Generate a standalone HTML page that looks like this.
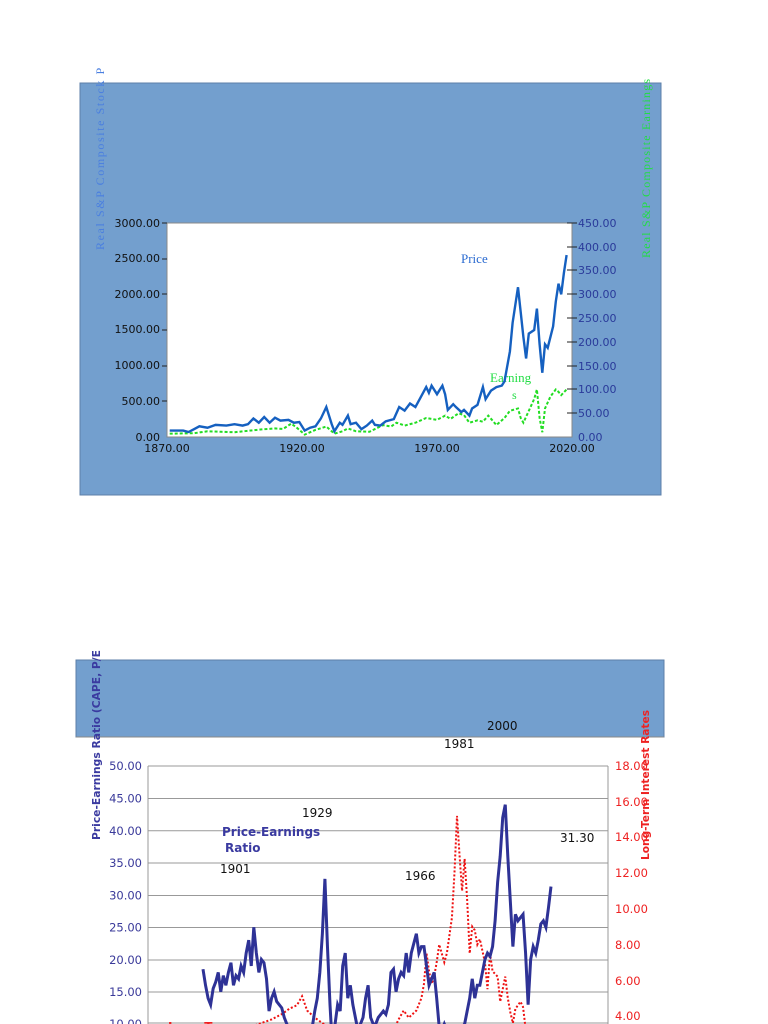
<!DOCTYPE html>
<html><head><meta charset="utf-8"><style>
html,body{margin:0;padding:0;background:#fff;width:768px;height:1024px;overflow:hidden}
svg{display:block}
text{font-family:"DejaVu Sans","Liberation Sans",sans-serif}
</style></head><body>
<svg width="768" height="1024" viewBox="0 0 768 1024" xmlns="http://www.w3.org/2000/svg">
<!-- Chart 1 -->
<rect x="80" y="83" width="581" height="412" fill="#739fce" stroke="#5c7fa8"/>
<rect x="167" y="223" width="405" height="214" fill="#fff" stroke="#888"/>
<text transform="translate(104,250) rotate(-90)" font-size="12" fill="#4a7fe0" letter-spacing="1.6" style="font-family:'Liberation Serif',serif">Real S&amp;P Composite Stock P</text>
<text transform="translate(650,258) rotate(-90)" font-size="12" fill="#22dd44" letter-spacing="1.2" style="font-family:'Liberation Serif',serif">Real S&amp;P Composite Earnings</text>
<g font-size="11" fill="#111" text-anchor="end">
<text x="160" y="227">3000.00</text><text x="160" y="262">2500.00</text><text x="160" y="298">2000.00</text><text x="160" y="333">1500.00</text><text x="160" y="369">1000.00</text><text x="160" y="405">500.00</text><text x="160" y="441">0.00</text>
</g>
<g stroke="#222"><line x1="162" y1="223" x2="167" y2="223"/><line x1="162" y1="259" x2="167" y2="259"/><line x1="162" y1="294" x2="167" y2="294"/><line x1="162" y1="330" x2="167" y2="330"/><line x1="162" y1="366" x2="167" y2="366"/><line x1="162" y1="401" x2="167" y2="401"/>
<line x1="567" y1="223" x2="577" y2="223"/><line x1="567" y1="247" x2="577" y2="247"/><line x1="567" y1="270" x2="577" y2="270"/><line x1="567" y1="294" x2="577" y2="294"/><line x1="567" y1="318" x2="577" y2="318"/><line x1="567" y1="342" x2="577" y2="342"/><line x1="567" y1="366" x2="577" y2="366"/><line x1="567" y1="389" x2="577" y2="389"/><line x1="567" y1="413" x2="577" y2="413"/></g>
<g font-size="11" fill="#2a3a9a">
<text x="578" y="227">450.00</text><text x="578" y="251">400.00</text><text x="578" y="274">350.00</text><text x="578" y="298">300.00</text><text x="578" y="322">250.00</text><text x="578" y="346">200.00</text><text x="578" y="370">150.00</text><text x="578" y="393">100.00</text><text x="578" y="417">50.00</text><text x="578" y="441">0.00</text>
</g>
<g font-size="11" fill="#111" text-anchor="middle"><text x="167" y="452">1870.00</text><text x="302" y="452">1920.00</text><text x="437" y="452">1970.00</text><text x="572" y="452">2020.00</text></g>
<text x="461" y="263" font-size="13" fill="#2a6ad0" style="font-family:'Liberation Serif',serif">Price</text>
<text x="490" y="382" font-size="13" fill="#22dd44" style="font-family:'Liberation Serif',serif">Earning</text>
<text x="512" y="399" font-size="12" fill="#22dd44" style="font-family:'Liberation Serif',serif">s</text>
<g transform="translate(-4882,437) scale(2.7,-0.4756)">
<polyline fill="none" stroke="#22dd22" stroke-width="2" stroke-dasharray="3,2" vector-effect="non-scaling-stroke" points="1871,7 1880,8 1885,12 1890,11 1895,10 1900,13 1905,16 1910,18 1913,17 1916,28 1918,20 1921,5 1925,15 1929,22 1932,7 1935,12 1937,18 1940,12 1945,11 1950,25 1953,22 1955,30 1958,24 1962,30 1966,40 1970,36 1973,45 1975,38 1978,50 1980,46 1982,30 1985,35 1987,32 1989,45 1992,25 1995,40 1997,55 2000,60 2001,40 2002,30 2004,55 2006,80 2007,100 2008,40 2009,10 2010,60 2012,85 2014,100 2015,95 2016,88 2018,100"/>
</g>
<g transform="translate(-4882,437) scale(2.7,-0.07133)">
<polyline fill="none" stroke="#1560c0" stroke-width="2.4" vector-effect="non-scaling-stroke" points="1871,90 1876,90 1878,70 1880,110 1882,150 1885,130 1888,170 1892,160 1895,180 1898,160 1900,180 1902,260 1904,200 1906,280 1908,200 1910,270 1912,230 1915,240 1917,200 1919,210 1921,90 1923,130 1925,150 1927,260 1929,420 1931,180 1932,80 1934,200 1935,170 1937,300 1938,180 1940,200 1942,110 1944,160 1946,230 1947,170 1949,160 1951,220 1954,250 1956,420 1958,370 1960,470 1962,420 1964,560 1966,700 1967,620 1968,720 1970,600 1972,720 1973,600 1974,380 1976,460 1977,420 1979,350 1980,380 1982,300 1983,400 1985,450 1987,700 1988,530 1990,650 1992,700 1994,720 1995,780 1997,1200 1998,1600 2000,2100 2001,1750 2002,1400 2003,1100 2004,1450 2006,1500 2007,1800 2008,1300 2009,900 2010,1300 2011,1250 2013,1550 2014,1900 2015,2150 2016,2000 2017,2300 2018,2550"/>
</g>

<!-- Chart 2 -->
<rect x="76" y="660" width="588" height="77" fill="#739fce" stroke="#5c7fa8"/>
<line x1="76" y1="737" x2="664" y2="737" stroke="#888"/>
<g stroke="#999" stroke-width="1">
<line x1="148" y1="766" x2="608" y2="766"/><line x1="148" y1="798.5" x2="608" y2="798.5"/><line x1="148" y1="830.7" x2="608" y2="830.7"/><line x1="148" y1="863" x2="608" y2="863"/><line x1="148" y1="895.5" x2="608" y2="895.5"/><line x1="148" y1="927.5" x2="608" y2="927.5"/><line x1="148" y1="960" x2="608" y2="960"/><line x1="148" y1="992" x2="608" y2="992"/><line x1="148" y1="1023" x2="608" y2="1023"/>
<line x1="148" y1="766" x2="148" y2="1024"/><line x1="608" y1="766" x2="608" y2="1024"/>
</g>
<g font-size="11.5" fill="#3a3a9a" text-anchor="end">
<text x="142" y="770">50.00</text><text x="142" y="802.5">45.00</text><text x="142" y="835">40.00</text><text x="142" y="867">35.00</text><text x="142" y="899.5">30.00</text><text x="142" y="931.5">25.00</text><text x="142" y="964">20.00</text><text x="142" y="996">15.00</text><text x="142" y="1028">10.00</text>
</g>
<g font-size="11.5" fill="#ee2222">
<text x="615" y="770">18.00</text><text x="615" y="806">16.00</text><text x="615" y="841">14.00</text><text x="615" y="877">12.00</text><text x="615" y="913">10.00</text><text x="615" y="949">8.00</text><text x="615" y="985">6.00</text><text x="615" y="1020">4.00</text>
</g>
<text transform="translate(100,840) rotate(-90)" font-size="11" font-weight="bold" fill="#3a3aa0" textLength="190" lengthAdjust="spacingAndGlyphs">Price-Earnings Ratio (CAPE, P/E</text>
<text transform="translate(649,860) rotate(-90)" font-size="11" font-weight="bold" fill="#ee2222" textLength="150" lengthAdjust="spacingAndGlyphs">Long-Term Interest Rates</text>
<g font-size="12" fill="#111" style="font-family:'DejaVu Sans Mono',monospace">
<text x="487" y="730">2000</text><text x="444" y="748">1981</text><text x="302" y="817">1929</text><text x="220" y="873">1901</text><text x="405" y="880">1966</text><text x="560" y="842">31.30</text>
</g>
<text x="222" y="836" font-size="12" font-weight="bold" fill="#3a3aa0">Price-Earnings</text>
<text x="225" y="852" font-size="12" font-weight="bold" fill="#3a3aa0">Ratio</text>
<text x="168" y="1031" font-size="12" font-weight="bold" fill="#ee2222">Long-Term</text>
<g transform="translate(-4574.74,1087.3) scale(2.54,-17.85)">
<polyline fill="none" stroke="#ee1111" stroke-width="2" stroke-dasharray="2,2" vector-effect="non-scaling-stroke" points="1900,3.4 1908,3.8 1912,4.1 1915,4.4 1918,4.6 1920,5.1 1922,4.3 1925,3.9 1930,3.4 1940,2.4 1950,2.4 1955,2.9 1958,3.8 1960,4.3 1962,3.9 1965,4.3 1967,5 1968,5.8 1969,7.5 1970,6.5 1971,5.8 1972,6.2 1973,7 1974,8 1975,7.5 1976,7 1977,7.5 1978,8.5 1979,9.5 1980,12 1981,15.2 1982,13 1983,11 1984,12.8 1985,10.5 1986,7.5 1987,9 1988,8.8 1989,8 1990,8.3 1992,7 1993,5.5 1994,7.5 1995,6.5 1997,6.2 1998,4.8 2000,6.2 2001,5 2002,4.2 2003,3.6 2004,4.4 2006,4.8 2007,4.5 2008,3.3 2010,3 2012,1.8 2015,2 2018,2.8"/>
</g>
<g transform="translate(-4574.74,1088.5) scale(2.54,-6.45)">
<polyline fill="none" stroke="#2e3296" stroke-width="3" vector-effect="non-scaling-stroke" points="1881,18.5 1882,16 1883,14 1884,13 1885,15.5 1886,16.5 1887,18 1888,15 1889,17.5 1890,16 1891,18 1892,19.5 1893,16 1894,17.5 1895,17 1896,19 1897,18 1898,21 1899,23 1900,19 1901,25 1902,21 1903,18 1904,20 1905,19.5 1906,17 1907,12 1908,14 1909,15 1910,13.5 1911,13 1912,12.5 1913,11 1915,9 1917,6.5 1918,5.5 1920,5 1921,6 1922,7.5 1923,8 1924,9.5 1925,12 1926,14 1927,18 1928,24 1929,32.5 1930,22 1931,13 1932,6 1933,10 1934,13 1935,12 1936,19 1937,21 1938,14 1939,16 1940,13 1941,11 1942,9 1943,10 1944,11 1945,14 1946,16 1947,11 1948,10 1949,10 1950,11 1952,12 1953,11.5 1954,13 1955,18 1956,18.5 1957,15 1958,17 1959,18 1960,17.5 1961,21 1962,18 1963,21 1964,22.5 1965,24 1966,21 1967,22 1968,22 1969,19 1970,16 1971,17 1972,18 1973,14 1974,9.5 1975,9 1976,10 1977,9 1978,8.5 1979,8 1980,8 1981,7.5 1982,7 1983,9.5 1984,10 1985,12 1986,14 1987,17 1988,14 1989,16 1990,16 1991,18 1992,20 1993,21 1994,20.5 1995,22 1996,26 1997,32 1998,36 1999,42 2000,44 2001,36 2002,29 2003,22 2004,27 2005,26 2006,26.5 2007,27 2008,21 2009,13 2010,20 2011,22 2012,21 2013,23 2014,25.5 2015,26 2016,25 2017,28 2018,31.3"/>
</g>
</svg>
</body></html>
